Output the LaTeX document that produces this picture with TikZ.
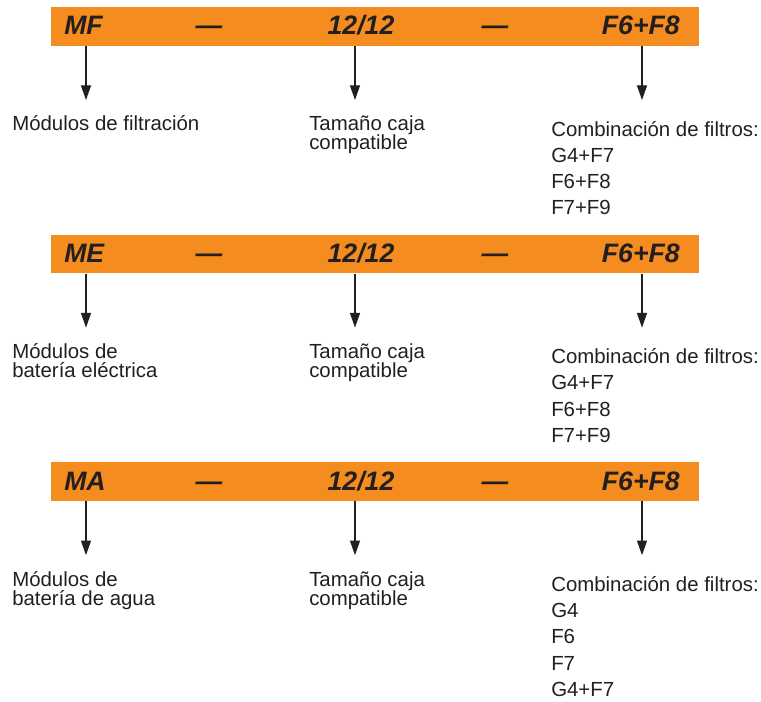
\documentclass[tikz,border=0pt]{standalone}
\usepackage{fontspec}
\setmainfont{Liberation Sans}
\usepackage{xcolor}
\usepackage{tikz}
\usetikzlibrary{arrows.meta}
\definecolor{barorange}{HTML}{F48C1F}
\definecolor{ink}{HTML}{231F20}

\begin{document}
\begin{tikzpicture}[x=0.75pt, y=-0.75pt,
    bar/.style={fill=barorange,minimum width=486pt,minimum height=29pt,inner sep=0},
    code/.style={font=\fontsize{20}{20}\selectfont\bfseries\itshape,text=ink,inner sep=0,anchor=base},
    lab/.style={font=\fontsize{15.3}{14.3}\selectfont,text=ink,align=left,inner sep=0,anchor=base west},
    list/.style={lab,font=\fontsize{15.3}{19.7}\selectfont},
    arr/.style={-{Triangle[length=11pt,width=7.5pt]},line width=0.95pt,ink}]
    \useasboundingbox (0,0) rectangle (761,702);
    % MF row
    \node[bar] (barMF) at (375,26.4) {};
    \node[code,anchor=base west] (codeMF) at (64,35) {MF};
    \node[code] (dashMF1) at (209,35) {—};
    \node[code] (sizeMF) at (361,35) {12/12};
    \node[code] (dashMF2) at (495,35) {—};
    \node[code,anchor=base east] (filtMF) at (680,35) {F6+F8};
    \coordinate (tipMF1) at (86,100); \coordinate (tipMF2) at (355,100); \coordinate (tipMF3) at (642,100);
    \draw[arr] (barMF.south -| tipMF1)--(tipMF1); \draw[arr] (barMF.south -| tipMF2)--(tipMF2); \draw[arr] (barMF.south -| tipMF3)--(tipMF3);
    % base = last line
    \node[lab] (txtMF) at (12,131) {Módulos de filtración};
    \node[lab] (txtSizeMF) at (309,150) {Tamaño caja\\compatible};
    \node[list] (txtFiltMF) at (551,214.9) {Combinación de filtros:\\G4+F7\\F6+F8\\F7+F9};
    % ME row
    \node[bar] (barME) at (375,254) {};
    \node[code,anchor=base west] (codeME) at (64,262.6) {ME};
    \node[code] (dashME1) at (209,262.6) {—};
    \node[code] (sizeME) at (361,262.6) {12/12};
    \node[code] (dashME2) at (495,262.6) {—};
    \node[code,anchor=base east] (filtME) at (680,262.6) {F6+F8};
    \coordinate (tipME1) at (86,327.6); \coordinate (tipME2) at (355,327.6); \coordinate (tipME3) at (642,327.6);
    \draw[arr] (barME.south -| tipME1)--(tipME1); \draw[arr] (barME.south -| tipME2)--(tipME2); \draw[arr] (barME.south -| tipME3)--(tipME3);
    \node[lab] (txtME) at (12,377.6) {Módulos de\\batería eléctrica};
    \node[lab] (txtSizeME) at (309,377.6) {Tamaño caja\\compatible};
    \node[list] (txtFiltME) at (551,442.5) {Combinación de filtros:\\G4+F7\\F6+F8\\F7+F9};
    % MA row
    \node[bar] (barMA) at (375,481.6) {};
    \node[code,anchor=base west] (codeMA) at (64,490.2) {MA};
    \node[code] (dashMA1) at (209,490.2) {—};
    \node[code] (sizeMA) at (361,490.2) {12/12};
    \node[code] (dashMA2) at (495,490.2) {—};
    \node[code,anchor=base east] (filtMA) at (680,490.2) {F6+F8};
    \coordinate (tipMA1) at (86,555.2); \coordinate (tipMA2) at (355,555.2); \coordinate (tipMA3) at (642,555.2);
    \draw[arr] (barMA.south -| tipMA1)--(tipMA1); \draw[arr] (barMA.south -| tipMA2)--(tipMA2); \draw[arr] (barMA.south -| tipMA3)--(tipMA3);
    \node[lab] (txtMA) at (12,605.2) {Módulos de\\batería de agua};
    \node[lab] (txtSizeMA) at (309,605.2) {Tamaño caja\\compatible};
    \node[list] (txtFiltMA) at (551,696.4) {Combinación de filtros:\\G4\\F6\\F7\\G4+F7};
\end{tikzpicture}
\end{document}
